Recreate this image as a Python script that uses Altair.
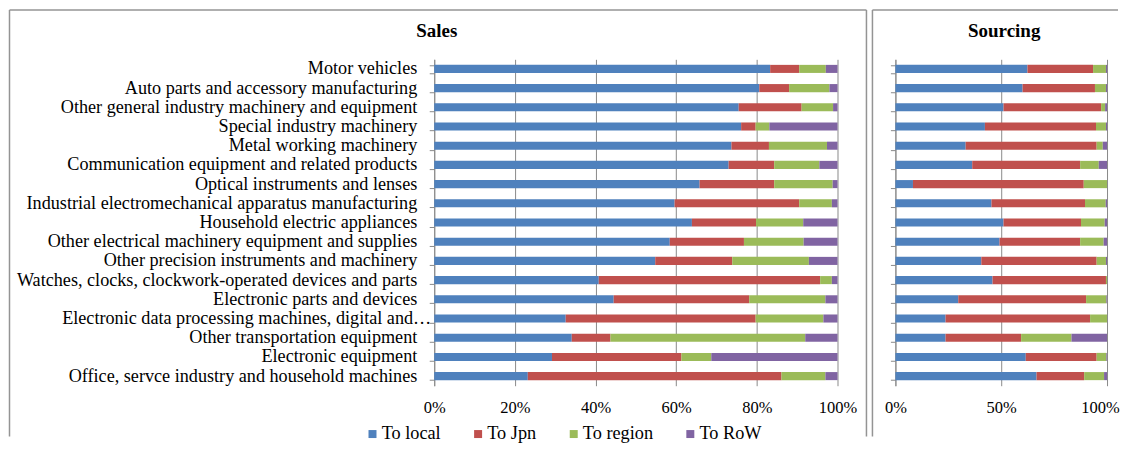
import altair as alt
import pandas as pd

categories = [
    "Motor vehicles",
    "Auto parts and accessory manufacturing",
    "Other general industry machinery and equipment",
    "Special industry machinery",
    "Metal working machinery",
    "Communication equipment and related products",
    "Optical instruments and lenses",
    "Industrial electromechanical apparatus manufacturing",
    "Household electric appliances",
    "Other electrical machinery equipment and supplies",
    "Other precision instruments and machinery",
    "Watches, clocks, clockwork-operated devices and parts",
    "Electronic parts and devices",
    "Electronic data processing machines, digital and…",
    "Other transportation equipment",
    "Electronic equipment",
    "Office, servce industry and household machines",
]
series = ["To local", "To Jpn", "To region", "To RoW"]
colors = ["#4F81BD", "#C0504D", "#9BBB59", "#8064A2"]
panel_titles = ["Sales", "Sourcing"]

sales_local = [83.3, 80.6, 75.5, 76.1, 73.7, 73.0, 65.8, 59.6, 63.9, 58.4, 54.8, 40.8, 44.5, 32.6, 34.1, 29.2, 23.2]
sales_jpn = [7.2, 7.4, 15.6, 3.6, 9.3, 11.3, 18.5, 30.9, 15.9, 18.4, 19.1, 54.9, 33.6, 47.1, 9.6, 32.1, 62.9]
sales_region = [6.6, 10.0, 7.8, 3.4, 14.4, 11.2, 14.5, 8.1, 11.7, 14.8, 19.0, 2.9, 18.9, 16.8, 48.3, 7.4, 10.9]
sales_row = [2.9, 2.0, 1.1, 16.9, 2.6, 4.5, 1.2, 1.4, 8.5, 8.4, 7.1, 1.4, 3.0, 3.5, 8.0, 31.3, 3.0]

src_local = [62.4, 60.1, 51.1, 42.3, 33.2, 36.3, 8.3, 45.4, 51.1, 49.2, 40.6, 45.9, 29.7, 23.7, 23.7, 61.6, 66.7]
src_jpn = [31.0, 34.2, 46.1, 52.5, 61.9, 51.0, 80.7, 44.2, 36.6, 38.1, 54.5, 53.6, 60.4, 68.3, 35.7, 33.5, 22.5]
src_region = [6.1, 5.2, 1.9, 4.7, 2.9, 8.8, 11.0, 9.8, 11.2, 11.1, 4.4, 0.5, 9.6, 8.0, 23.8, 4.6, 9.4]
src_row = [0.5, 0.5, 0.9, 0.5, 2.0, 3.9, 0.0, 0.6, 1.1, 1.6, 0.5, 0.0, 0.3, 0.0, 16.8, 0.3, 1.4]


def long_table(cols):
    rows = []
    for i, cat in enumerate(categories):
        for k, (name, vals) in enumerate(zip(series, cols)):
            rows.append({"industry": cat, "series": name, "order": k, "value": vals[i]})
    return pd.DataFrame(rows)


sales_df = long_table([sales_local, sales_jpn, sales_region, sales_row])
src_df = long_table([src_local, src_jpn, src_region, src_row])

FONT = "Liberation Serif"
GRID = "#8a8a8a"
BORDER = "#949494"
H = 327
W_SALES = 404
W_SRC = 212

color_scale = alt.Scale(domain=series, range=colors)
y_scale = alt.Scale(domain=categories, paddingInner=0.58, paddingOuter=0.29)

EDL = "Electronic data processing machines, digital and…"


def bars(df, xvals, show_labels, legend, last_offset=0):
    y_axis = alt.Axis(
        title=None,
        labels=show_labels,
        labelFont=FONT,
        labelFontSize=18.2,
        labelColor="black",
        labelLimit=600,
        labelPadding=alt.expr(f"datum.value == '{EDL}' ? -1.5 : 12.5") if show_labels else 12,
        ticks=True,
        tickSize=5,
        tickColor=GRID,
        tickBand="extent",
        domainColor=GRID,
        grid=False,
    )
    x_axis = alt.Axis(
        title=None,
        values=xvals,
        labelExpr="datum.value + '%'",
        labelFont=FONT,
        labelFontSize=16.5,
        labelColor="black",
        labelPadding=14,
        labelFlush=False,
        labelOffset=alt.expr(f"datum.value == 100 ? {last_offset} : 0"),
        ticks=False,
        domain=False,
        grid=True,
        gridColor=GRID,
        gridWidth=1,
    )
    return (
        alt.Chart(df)
        .mark_bar()
        .encode(
            y=alt.Y("industry:N", sort=categories, scale=y_scale, axis=y_axis),
            x=alt.X("value:Q", stack="zero", scale=alt.Scale(domain=[0, 100], nice=False), axis=x_axis),
            color=alt.Color("series:N", scale=color_scale, sort=series, legend=legend),
            order=alt.Order("order:Q"),
        )
    )


dummy = pd.DataFrame({"a": [0]})


def rule(x, y, x2=None, y2=None):
    enc = {"x": alt.value(x), "y": alt.value(y)}
    if x2 is not None:
        enc["x2"] = alt.value(x2)
    if y2 is not None:
        enc["y2"] = alt.value(y2)
    return alt.Chart(dummy).mark_rule(color=BORDER, strokeWidth=1.5).encode(**enc)


def title_text(text, x):
    return alt.Chart(dummy).mark_text(
        font=FONT, fontSize=19, fontWeight="bold", color="black", align="center", baseline="middle"
    ).encode(x=alt.value(x), y=alt.value(-28.5), text=alt.value(text))


legend = alt.Legend(
    title=None,
    orient="none",
    legendX=-71,
    legendY=366,
    direction="horizontal",
    columns=4,
    symbolType="square",
    symbolSize=64,
    symbolStrokeWidth=0,
    labelFont=FONT,
    labelFontSize=18.3,
    labelColor="black",
    labelOffset=0,
    columnPadding=27.8,
)

TOP = -49.5
BOT = 378

sales = alt.layer(
    bars(sales_df, [0, 20, 40, 60, 80, 100], True, legend),
    title_text(panel_titles[0], 2.5),
    rule(-425.5, TOP, y2=BOT),
    rule(-425.5, TOP, x2=433),
    rule(433, TOP, y2=BOT),
).properties(width=W_SALES, height=H)

sourcing = alt.layer(
    bars(src_df, [0, 50, 100], False, None, last_offset=-7),
    title_text(panel_titles[1], 109),
    rule(-23, TOP, y2=BOT),
    rule(-23, TOP, x2=223),
).properties(width=W_SRC, height=H)

chart = (
    alt.hconcat(sales, sourcing, spacing=58, bounds="flush")
    .resolve_legend(color="independent")
    .properties(padding=0, background="white")
    .configure_view(stroke=None)
)

chart.save("out.html", embed_options={"renderer": "svg", "actions": False})
